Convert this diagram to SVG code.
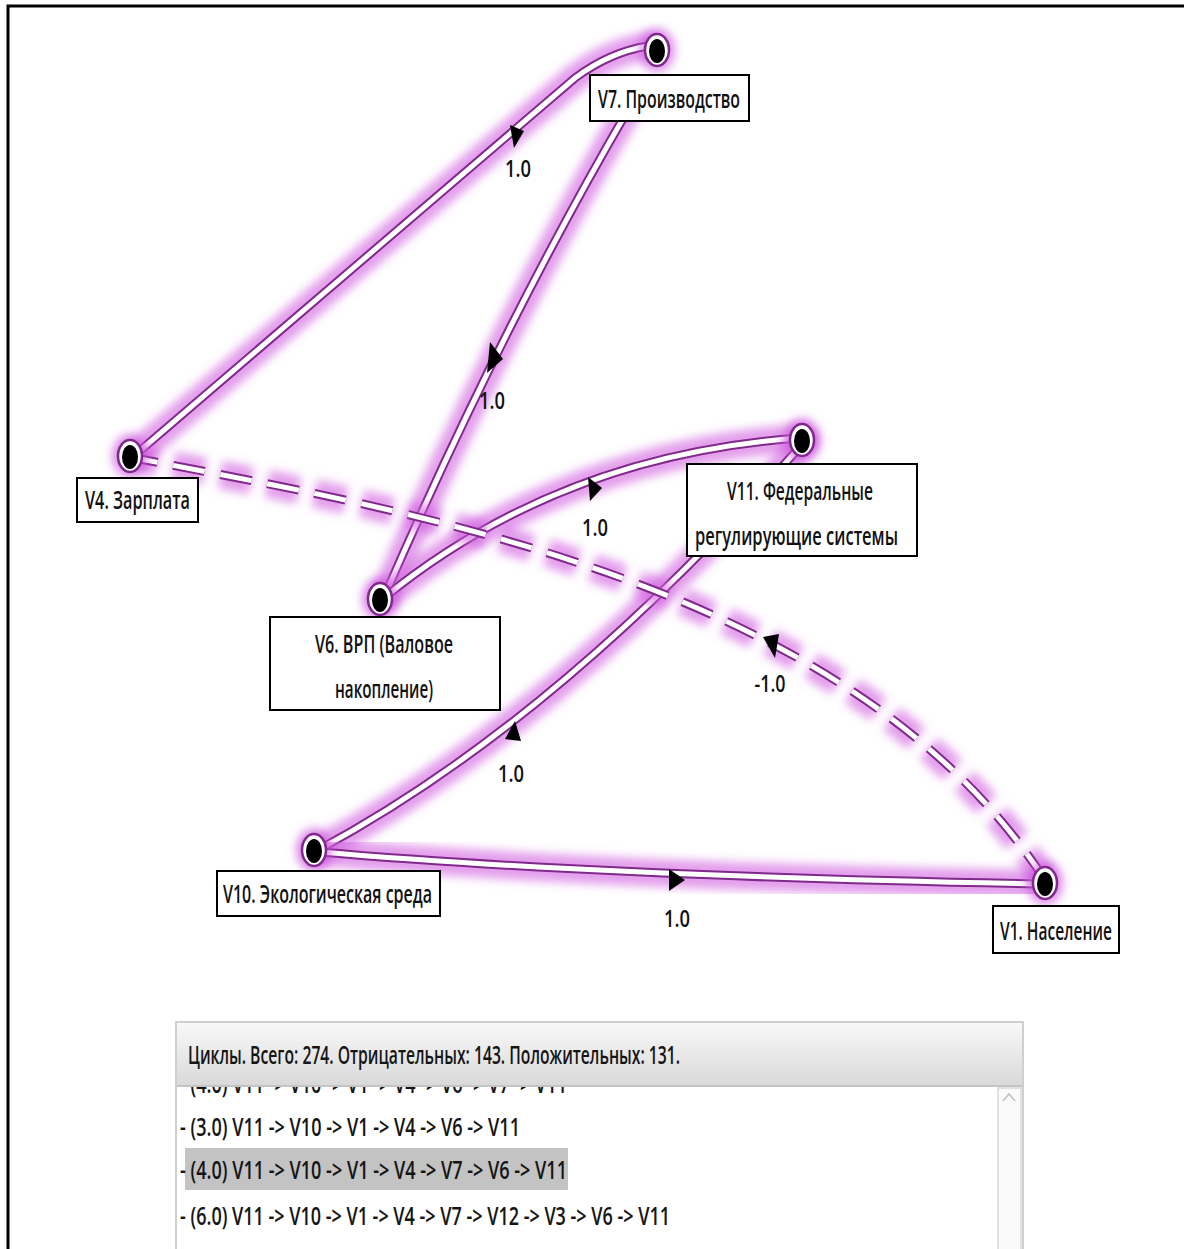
<svg xmlns="http://www.w3.org/2000/svg" width="1184" height="1249" viewBox="0 0 1184 1249">
  <defs>
    <filter id="soft" x="-30%" y="-30%" width="160%" height="160%">
      <feGaussianBlur stdDeviation="5"/>
    </filter>
    <linearGradient id="hdr" x1="0" y1="0" x2="0" y2="1">
      <stop offset="0" stop-color="#f8f8f8"/>
      <stop offset="1" stop-color="#d9d9d9"/>
    </linearGradient>
    <clipPath id="listClip">
      <rect x="177" y="1087" width="820" height="162"/>
    </clipPath>
    <style>
      .glow { fill: none; stroke: #d05ee0; stroke-width: 28; stroke-opacity: 0.6; filter: url(#soft); stroke-linecap: round; }
      .rim { fill: none; stroke: #80288c; stroke-width: 9; stroke-linecap: round; }
      .core { fill: none; stroke: #ffffff; stroke-width: 5; stroke-linecap: round; }
      .dash { stroke-dasharray: 32 16; stroke-linecap: butt; }
      .arrow { fill: #000; }
      .elabel { font-family: "Open Sans", "Noto Sans", "Liberation Sans", sans-serif; font-weight: 600; font-size: 24px; fill: #111; text-anchor: middle; }
      .box { fill: #fff; stroke: #000; stroke-width: 2; }
      .nlabel { font-family: "Open Sans", "Noto Sans", "Liberation Sans", sans-serif; font-weight: 600; font-size: 25px; fill: #111; }
      .nglow { fill: #cc55dd; fill-opacity: 0.65; filter: url(#soft); }
      .nring { fill: #fff; stroke: #80288c; stroke-width: 2.5; }
      .ndot { fill: #000; }
      .row { font-family: "Open Sans", "Noto Sans", "Liberation Sans", sans-serif; font-weight: 600; font-size: 25px; fill: #151515; }
    </style>
  </defs>

  <rect width="1184" height="1249" fill="#fff"/>
  <!-- outer frame (left and top edges) -->
  <path d="M8,1249 V6 H1184" fill="none" stroke="#000" stroke-width="3"/>

  <!-- connectors -->
  <g id="connectors">
    <!-- V4 -> V7 -->
    <g id="e-v4-v7">
      <path class="glow" d="M135,455 L575,78 Q610,52 648,46"/>
      <path class="rim" d="M135,455 L575,78 Q610,52 648,46"/>
      <path class="core" d="M135,455 L575,78 Q610,52 648,46"/>
      <polygon class="arrow" points="510,125 524,131 514,148"/>
      <text class="elabel" x="518" y="177" textLength="26" lengthAdjust="spacingAndGlyphs">1.0</text>
    </g>
    <!-- V7 -> V6 -->
    <g id="e-v7-v6">
      <path class="glow" d="M628,110 Q500,330 385,595"/>
      <path class="rim" d="M628,110 Q500,330 385,595"/>
      <path class="core" d="M628,110 Q500,330 385,595"/>
      <polygon class="arrow" points="490,342 503,359 487,373"/>
      <text class="elabel" x="492" y="409" textLength="26" lengthAdjust="spacingAndGlyphs">1.0</text>
    </g>
    <!-- V6 -> V11 -->
    <g id="e-v6-v11">
      <path class="glow" d="M385,597 Q560,455 800,438"/>
      <path class="rim" d="M385,597 Q560,455 800,438"/>
      <path class="core" d="M385,597 Q560,455 800,438"/>
      <polygon class="arrow" points="588,477 602,488 590,501"/>
      <text class="elabel" x="595" y="536" textLength="26" lengthAdjust="spacingAndGlyphs">1.0</text>
    </g>
    <!-- V10 -> V11 -->
    <g id="e-v10-v11">
      <path class="glow" d="M318,850 Q560,720 805,441"/>
      <path class="rim" d="M318,850 Q560,720 805,441"/>
      <path class="core" d="M318,850 Q560,720 805,441"/>
      <polygon class="arrow" points="515,721 521,741 505,739"/>
      <text class="elabel" x="511" y="782" textLength="26" lengthAdjust="spacingAndGlyphs">1.0</text>
    </g>
    <!-- V10 -> V1 -->
    <g id="e-v10-v1">
      <path class="glow" d="M320,852 Q600,876 1040,884"/>
      <path class="rim" d="M320,852 Q600,876 1040,884"/>
      <path class="core" d="M320,852 Q600,876 1040,884"/>
      <polygon class="arrow" points="669,869 685,880 669,891"/>
      <text class="elabel" x="677" y="927" textLength="26" lengthAdjust="spacingAndGlyphs">1.0</text>
    </g>
    <!-- V1 -> V4 (negative) -->
    <g id="e-v1-v4">
      <path class="glow dash" d="M1045,880 C850,580 400,510 135,458"/>
      <path class="rim dash" d="M1045,880 C850,580 400,510 135,458"/>
      <path class="core dash" d="M1045,880 C850,580 400,510 135,458"/>
      <polygon class="arrow" points="763,637 779,634 775,658"/>
      <text class="elabel" x="770" y="692" textLength="31" lengthAdjust="spacingAndGlyphs">-1.0</text>
    </g>
  </g>

  <!-- nodes -->
  <g id="node-v7">
    <ellipse class="nglow" cx="657" cy="50" rx="18" ry="22"/>
    <ellipse class="nring" cx="657" cy="50" rx="12" ry="16"/>
    <ellipse class="ndot" cx="657" cy="51" rx="8" ry="12"/>
    <rect class="box" x="590" y="75" width="159" height="46"/>
    <text class="nlabel" x="598" y="108" textLength="142" lengthAdjust="spacingAndGlyphs">V7. Производство</text>
  </g>
  <g id="node-v4">
    <ellipse class="nglow" cx="130" cy="456" rx="18" ry="22"/>
    <ellipse class="nring" cx="130" cy="456" rx="12" ry="16"/>
    <ellipse class="ndot" cx="130" cy="457" rx="8" ry="12"/>
    <rect class="box" x="77" y="478" width="121" height="44"/>
    <text class="nlabel" x="85" y="509" textLength="105" lengthAdjust="spacingAndGlyphs">V4. Зарплата</text>
  </g>
  <g id="node-v6">
    <ellipse class="nglow" cx="380" cy="599" rx="18" ry="22"/>
    <ellipse class="nring" cx="380" cy="599" rx="12" ry="16"/>
    <ellipse class="ndot" cx="380" cy="600" rx="8" ry="12"/>
    <rect class="box" x="270" y="617" width="230" height="93"/>
    <text class="nlabel" x="315" y="653" textLength="138" lengthAdjust="spacingAndGlyphs">V6. ВРП (Валовое</text>
    <text class="nlabel" x="335" y="698" textLength="98" lengthAdjust="spacingAndGlyphs">накопление)</text>
  </g>
  <g id="node-v11">
    <ellipse class="nglow" cx="802" cy="440" rx="18" ry="22"/>
    <ellipse class="nring" cx="802" cy="440" rx="12" ry="16"/>
    <ellipse class="ndot" cx="802" cy="441" rx="8" ry="12"/>
    <rect class="box" x="687" y="464" width="230" height="92"/>
    <text class="nlabel" x="727" y="500" textLength="146" lengthAdjust="spacingAndGlyphs">V11. Федеральные</text>
    <text class="nlabel" x="695" y="545" textLength="203" lengthAdjust="spacingAndGlyphs">регулирующие системы</text>
  </g>
  <g id="node-v10">
    <ellipse class="nglow" cx="314" cy="850" rx="18" ry="22"/>
    <ellipse class="nring" cx="314" cy="850" rx="12" ry="16"/>
    <ellipse class="ndot" cx="314" cy="851" rx="8" ry="12"/>
    <rect class="box" x="217" y="871" width="223" height="45"/>
    <text class="nlabel" x="223" y="903" textLength="209" lengthAdjust="spacingAndGlyphs">V10. Экологическая среда</text>
  </g>
  <g id="node-v1">
    <ellipse class="nglow" cx="1045" cy="883" rx="18" ry="22"/>
    <ellipse class="nring" cx="1045" cy="883" rx="12" ry="16"/>
    <ellipse class="ndot" cx="1045" cy="884" rx="8" ry="12"/>
    <rect class="box" x="993" y="906" width="126" height="47"/>
    <text class="nlabel" x="1000" y="940" textLength="112" lengthAdjust="spacingAndGlyphs">V1. Население</text>
  </g>

  <!-- cycle list panel -->
  <g id="cycles-panel">
    <rect x="176" y="1022" width="847" height="240" fill="#fff" stroke="#cfcfcf" stroke-width="2"/>
    <rect x="177" y="1023" width="845" height="63" fill="url(#hdr)"/>
    <line x1="177" y1="1086" x2="1022" y2="1086" stroke="#c4c4c4" stroke-width="2"/>
    <text class="row" x="188" y="1064" textLength="492" lengthAdjust="spacingAndGlyphs">Циклы. Всего: 274. Отрицательных: 143. Положительных: 131.</text>
    <!-- scrollbar -->
    <rect x="998" y="1088" width="23" height="165" fill="#fafafa" stroke="#d8d8d8" stroke-width="1.5"/>
    <path d="M1003,1101 L1009,1094 L1015,1101" fill="none" stroke="#c2c2c2" stroke-width="1.5"/>
    <g clip-path="url(#listClip)">
      <text class="row" x="180" y="1093" textLength="387" lengthAdjust="spacingAndGlyphs">- (4.0) V11 -&gt; V10 -&gt; V1 -&gt; V4 -&gt; V6 -&gt; V7 -&gt; V11</text>
      <text class="row" x="180" y="1136" textLength="340" lengthAdjust="spacingAndGlyphs">- (3.0) V11 -&gt; V10 -&gt; V1 -&gt; V4 -&gt; V6 -&gt; V11</text>
      <rect x="185" y="1148" width="383" height="42" fill="#c3c3c3"/>
      <text class="row" x="180" y="1179" textLength="387" lengthAdjust="spacingAndGlyphs">- (4.0) V11 -&gt; V10 -&gt; V1 -&gt; V4 -&gt; V7 -&gt; V6 -&gt; V11</text>
      <text class="row" x="180" y="1225" textLength="490" lengthAdjust="spacingAndGlyphs">- (6.0) V11 -&gt; V10 -&gt; V1 -&gt; V4 -&gt; V7 -&gt; V12 -&gt; V3 -&gt; V6 -&gt; V11</text>
      <text class="row" x="180" y="1268" textLength="480" lengthAdjust="spacingAndGlyphs">- (6.0) V11 -&gt; V10 -&gt; V1 -&gt; V4 -&gt; V7 -&gt; V12 -&gt; V5 -&gt; V6 -&gt; V11</text>
    </g>
  </g>
</svg>
